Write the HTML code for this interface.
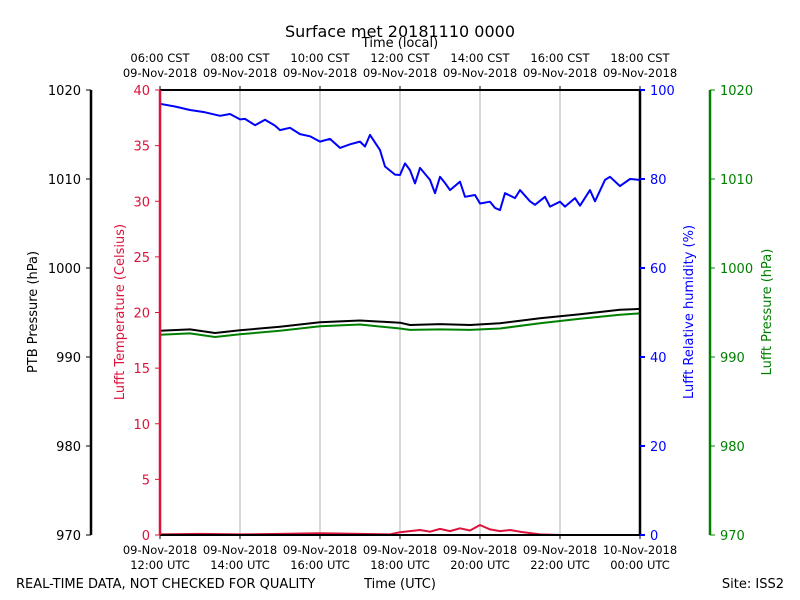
<!DOCTYPE html>
<html><head><meta charset="utf-8"><style>
html,body{margin:0;padding:0;background:#fff}
svg{display:block;font-family:"DejaVu Sans","Liberation Sans",sans-serif}
</style></head><body>
<svg id="c" width="800" height="600" viewBox="0 0 800 600">
<text x="400" y="37" font-size="16" text-anchor="middle">Surface met 20181110 0000</text>
<text x="400" y="47" font-size="13" text-anchor="middle">Time (local)</text>
<text x="16" y="588" font-size="13">REAL-TIME DATA, NOT CHECKED FOR QUALITY</text>
<text x="400" y="588" font-size="13" text-anchor="middle">Time (UTC)</text>
<text x="784" y="588" font-size="13" text-anchor="end">Site: ISS2</text>
<g id="grid"></g><g id="series"></g><g id="axes"></g>
</svg>
<script>
const hours=[0,0.375,0.75,1.125,1.5,1.75,2,2.125,2.375,2.625,2.875,3,3.25,3.5,3.75,4,4.25,4.5,4.75,5,5.125,5.25,5.5,5.625,5.875,6,6.125,6.25,6.375,6.5,6.75,6.875,7,7.125,7.25,7.5,7.625,7.875,8,8.25,8.375,8.5,8.625,8.875,9,9.25,9.375,9.625,9.75,10,10.125,10.375,10.5,10.75,10.875,11.125,11.25,11.5,11.75,12];
const rhValues=[96.9,96.3,95.5,95.0,94.2,94.6,93.4,93.5,92.1,93.3,92.0,91.0,91.5,90.1,89.6,88.4,89.0,87.0,87.8,88.4,87.3,89.9,86.5,82.8,81.0,80.9,83.5,82.0,79.0,82.5,79.8,76.8,80.5,79.1,77.5,79.4,76.0,76.4,74.5,74.9,73.5,73.0,76.8,75.7,77.5,75.0,74.2,76.0,73.8,74.9,73.8,75.7,74.0,77.5,75.0,79.8,80.5,78.4,80.0,79.8];
const pHours=[0,0.75,1.375,2,3,4,5,6,6.25,7,7.75,8.5,9.5,10.5,11.5,12];
const ptbValues=[992.95,993.1,992.7,993.0,993.4,993.9,994.1,993.85,993.6,993.7,993.6,993.8,994.35,994.8,995.3,995.4];
const lufftPValues=[992.5,992.65,992.25,992.55,992.95,993.45,993.65,993.2,993.05,993.1,993.05,993.2,993.8,994.3,994.75,994.9];
const tHours=[0,1,2,3,4,5,5.75,6,6.25,6.5,6.75,7,7.25,7.5,7.75,8,8.25,8.5,8.75,9,9.5,10,11,12];
const tempValues=[0.05,0.1,0.05,0.1,0.15,0.1,0.05,0.25,0.35,0.45,0.3,0.55,0.35,0.6,0.4,0.9,0.5,0.35,0.45,0.3,0.05,0,0,0];
const topLabels=["06:00 CST","08:00 CST","10:00 CST","12:00 CST","14:00 CST","16:00 CST","18:00 CST"];
const botLabels=["12:00 UTC","14:00 UTC","16:00 UTC","18:00 UTC","20:00 UTC","22:00 UTC","00:00 UTC"];
const botDates=["09-Nov-2018","09-Nov-2018","09-Nov-2018","09-Nov-2018","09-Nov-2018","09-Nov-2018","10-Nov-2018"];
const pTicks=[970,980,990,1000,1010,1020];
const tTicks=[0,5,10,15,20,25,30,35,40];
const rhTicks=[0,20,40,60,80,100];
const X0=160,X1=640,Y0=535,Y1=90;
const xs=h=>X0+(X1-X0)*h/12;
const yP=v=>Y0-(Y0-Y1)*(v-970)/50;
const yT=v=>Y0-(Y0-Y1)*v/40;
const yRH=v=>Y0-(Y0-Y1)*v/100;
const NS="http://www.w3.org/2000/svg";
function mk(tag,attrs,parent,txt){const e=document.createElementNS(NS,tag);for(const k in attrs)e.setAttribute(k,attrs[k]);if(txt!==undefined)e.textContent=txt;document.getElementById(parent).appendChild(e);return e;}
for(let i=1;i<6;i++){const l=mk('line',{x1:xs(i*2),x2:xs(i*2),y1:Y1,y2:Y0,stroke:'#b0b0b0','stroke-width':1},'grid');

}
function path(xv,yv,fx,fy,col,name){const d=xv.map((h,i)=>(i?'L':'M')+fx(h).toFixed(1)+','+fy(yv[i]).toFixed(1)).join('');
const p=mk('path',{d:d,fill:'none',stroke:col,'stroke-width':2,'stroke-linejoin':'round'},'series');

}
path(pHours,lufftPValues,xs,yP,'#008000','lufft-pressure-line');
path(pHours,ptbValues,xs,yP,'#000','ptb-pressure-line');
path(tHours,tempValues,xs,yT,'#dc143c','temperature-line');
path(hours,rhValues,xs,yRH,'#0000ff','humidity-line');
mk('line',{x1:X0,x2:X1,y1:Y1,y2:Y1,stroke:'#000','stroke-width':2},'axes');
mk('line',{x1:X0,x2:X1,y1:Y0,y2:Y0,stroke:'#000','stroke-width':2},'axes');
mk('line',{x1:X0,x2:X0,y1:Y1,y2:Y0,stroke:'#dc143c','stroke-width':2.5},'axes');
mk('line',{x1:X1,x2:X1,y1:Y1,y2:Y0,stroke:'#000','stroke-width':2.5},'axes');
mk('line',{x1:91,x2:91,y1:Y1,y2:Y0,stroke:'#000','stroke-width':2.5},'axes');
mk('line',{x1:710,x2:710,y1:Y1,y2:Y0,stroke:'#008000','stroke-width':2.5},'axes');
topLabels.forEach((t,i)=>{const x=xs(i*2);
mk('line',{x1:x,x2:x,y1:Y1,y2:Y1-4,stroke:'#000'},'axes');
mk('line',{x1:x,x2:x,y1:Y0,y2:Y0+4,stroke:'#000'},'axes');
const a=mk('text',{x:x,y:62,'font-size':11.5,'text-anchor':'middle'},'axes',t);


const b=mk('text',{x:x,y:77,'font-size':11.5,'text-anchor':'middle'},'axes',"09-Nov-2018");


const c=mk('text',{x:x,y:554,'font-size':11.5,'text-anchor':'middle'},'axes',botDates[i]);


const d=mk('text',{x:x,y:569,'font-size':11.5,'text-anchor':'middle'},'axes',botLabels[i]);

});
pTicks.forEach(v=>{const y=yP(v);mk('line',{x1:91,x2:86,y1:y,y2:y,stroke:'#000'},'axes');
const t=mk('text',{x:81,y:y+5,'font-size':13,'text-anchor':'end'},'axes',v);


mk('line',{x1:710,x2:715,y1:y,y2:y,stroke:'#008000'},'axes');
const g=mk('text',{x:720,y:y+5,'font-size':13,fill:'#008000'},'axes',v);

});
tTicks.forEach(v=>{const y=yT(v);mk('line',{x1:X0,x2:X0-5,y1:y,y2:y,stroke:'#dc143c'},'axes');
const t=mk('text',{x:150,y:y+5,'font-size':13,'text-anchor':'end',fill:'#dc143c'},'axes',v);

});
rhTicks.forEach(v=>{const y=yRH(v);mk('line',{x1:X1,x2:X1+5,y1:y,y2:y,stroke:'#0000ff','stroke-width':2},'axes');
const t=mk('text',{x:650,y:y+5,'font-size':13,fill:'#0000ff'},'axes',v);

});
function vt(x,txt,col,name){const t=mk('text',{x:0,y:0,'font-size':13,'text-anchor':'middle',fill:col,transform:`translate(${x},312) rotate(-90)`},'axes',txt);

}
vt(37,'PTB Pressure (hPa)','#000','ptb-axis-title');
vt(124,'Lufft Temperature (Celsius)','#dc143c','temperature-axis-title');
vt(693,'Lufft Relative humidity (%)','#0000ff','humidity-axis-title');
vt(771,'Lufft Pressure (hPa)','#008000','lufft-pressure-axis-title');
</script>
</body></html>
